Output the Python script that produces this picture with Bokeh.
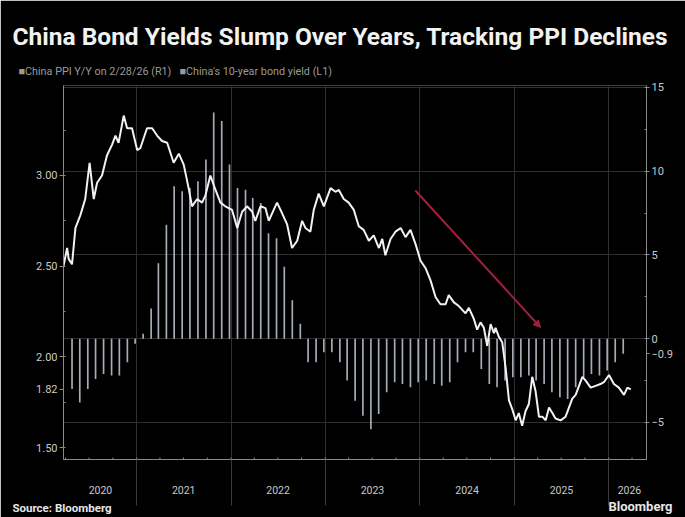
import pandas as pd
from bokeh.plotting import figure
from bokeh.models import (Range1d, LinearAxis, FixedTicker, Grid, Title,
                          Arrow, NormalHead, ColumnDataSource, PrintfTickFormatter)
from bokeh.embed import file_html
from bokeh.resources import INLINE

# ---------------- data ----------------
TITLE = "China Bond Yields Slump Over Years, Tracking PPI Declines"
LEGEND_PPI = "China PPI Y/Y on 2/28/26 (R1)"
LEGEND_YIELD = "China's 10-year bond yield (L1)"
SOURCE = "Source: Bloomberg"
BRAND = "Bloomberg"

yield_dates = [
    "2020-03-24", "2020-04-07", "2020-04-13", "2020-04-26", "2020-05-09", "2020-05-28", "2020-06-16", "2020-07-03", "2020-07-19", "2020-08-01",
    "2020-08-20", "2020-09-08", "2020-09-28", "2020-10-11", "2020-10-23", "2020-11-12", "2020-11-25", "2020-12-14", "2021-01-03", "2021-01-15",
    "2021-02-10", "2021-03-02", "2021-03-21", "2021-04-09", "2021-04-29", "2021-05-24", "2021-06-13", "2021-07-02", "2021-07-21", "2021-08-03",
    "2021-08-23", "2021-09-11", "2021-09-24", "2021-10-13", "2021-11-02", "2021-11-21", "2021-12-10", "2022-01-05", "2022-01-25", "2022-02-13",
    "2022-03-04", "2022-03-24", "2022-04-05", "2022-04-25", "2022-05-14", "2022-05-27", "2022-06-15", "2022-06-28", "2022-07-18", "2022-08-06",
    "2022-08-25", "2022-09-14", "2022-10-03", "2022-10-16", "2022-11-04", "2022-11-17", "2022-12-06", "2022-12-26", "2023-01-21", "2023-02-09",
    "2023-02-22", "2023-03-13", "2023-04-01", "2023-04-21", "2023-05-10", "2023-05-29", "2023-06-18", "2023-07-07", "2023-07-27", "2023-08-09",
    "2023-08-21", "2023-09-10", "2023-09-29", "2023-10-19", "2023-11-07", "2023-11-26", "2023-12-16", "2024-01-04", "2024-01-23", "2024-02-12",
    "2024-03-02", "2024-03-21", "2024-04-10", "2024-04-22", "2024-05-12", "2024-05-31", "2024-06-26", "2024-07-09", "2024-07-28", "2024-08-10",
    "2024-08-23", "2024-09-05", "2024-09-18", "2024-10-01", "2024-10-14", "2024-10-20", "2024-11-02", "2024-11-15", "2024-11-28", "2024-12-11",
    "2024-12-24", "2025-01-06", "2025-01-18", "2025-01-31", "2025-02-13", "2025-02-26", "2025-03-11", "2025-03-24", "2025-04-06", "2025-04-19",
    "2025-05-02", "2025-05-15", "2025-05-28", "2025-06-09", "2025-06-29", "2025-07-18", "2025-07-31", "2025-08-13", "2025-08-26", "2025-09-08",
    "2025-09-21", "2025-10-03", "2025-10-23", "2025-11-11", "2025-11-30", "2025-12-13", "2026-01-02", "2026-01-21", "2026-02-09", "2026-03-01",
    "2026-03-14", "2026-03-27",
]
yield_values = [
    2.50, 2.60, 2.54, 2.51, 2.71, 2.78, 2.87, 3.07, 2.87, 2.96,
    3.00, 3.11, 3.17, 3.22, 3.18, 3.33, 3.26, 3.26, 3.14, 3.15,
    3.26, 3.26, 3.22, 3.19, 3.18, 3.07, 3.12, 3.06, 2.93, 2.83,
    2.87, 2.85, 2.89, 3.00, 2.92, 2.85, 2.83, 2.81, 2.71, 2.80,
    2.83, 2.80, 2.75, 2.83, 2.82, 2.75, 2.81, 2.85, 2.79, 2.73,
    2.60, 2.64, 2.75, 2.71, 2.69, 2.81, 2.90, 2.83, 2.93, 2.91,
    2.92, 2.87, 2.85, 2.81, 2.72, 2.70, 2.64, 2.67, 2.60, 2.65,
    2.56, 2.65, 2.69, 2.71, 2.66, 2.70, 2.62, 2.53, 2.49, 2.42,
    2.33, 2.29, 2.29, 2.34, 2.30, 2.28, 2.24, 2.27, 2.21, 2.15,
    2.19, 2.16, 2.06, 2.18, 2.13, 2.16, 2.11, 2.08, 1.94, 1.76,
    1.71, 1.65, 1.69, 1.62, 1.70, 1.74, 1.89, 1.81, 1.67, 1.67,
    1.65, 1.72, 1.69, 1.66, 1.65, 1.67, 1.72, 1.77, 1.79, 1.84,
    1.89, 1.87, 1.83, 1.84, 1.85, 1.86, 1.90, 1.85, 1.83, 1.79,
    1.83, 1.82,
]

ppi_first_month = "2020-04"
ppi_values = [
    -3.0, -3.8, -3.0, -2.4, -2.1, -2.2, -2.2, -1.4, -0.3,                   # 2020 Apr-Dec
    0.3, 1.8, 4.5, 6.8, 9.1, 8.8, 9.0, 9.4, 10.7, 13.5, 13.0, 10.4,          # 2021
    9.0, 8.9, 8.4, 8.1, 6.3, 6.0, 4.3, 2.3, 0.9, -1.4, -1.4, -0.8,           # 2022
    -0.8, -1.4, -2.5, -3.7, -4.6, -5.4, -4.5, -3.2, -2.6, -2.7, -2.9, -2.6,  # 2023
    -2.5, -2.7, -2.8, -2.6, -1.4, -0.8, -0.8, -1.8, -2.7, -2.9, -2.5, -2.3,  # 2024
    -2.3, -2.2, -2.5, -2.7, -3.2, -3.5, -3.6, -2.9, -2.3, -2.1, -2.2, -1.9,  # 2025
    -1.4, -0.9,                                                              # 2026
]

year_labels = ["2020", "2021", "2022", "2023", "2024", "2025", "2026"]
year_label_dates = ["2020-08-14", "2021-07-02", "2022-07-02", "2023-07-02",
                    "2024-07-02", "2025-07-02", "2026-03-22"]
year_starts = ["2021-01-01", "2022-01-01", "2023-01-01", "2024-01-01",
               "2025-01-01", "2026-01-01"]
left_ticks = [1.5, 2.0, 2.5, 3.0]
right_ticks = [-5, 0, 5, 10, 15]
last_yield_value = 1.82
last_ppi_value = -0.9

# ---------------- layout constants (page px) ----------------
W, H = 685, 517
FL, FR, FT, FB = 63, 646, 85, 459          # frame edges
X_START, X_END = pd.Timestamp("2020-03-24"), pd.Timestamp("2026-05-27")
YL = (1.434, 3.496)                        # left (yield) range
YR = (-7.209, 15.119)                      # right (PPI) range

FONT = "Roboto"
BG = "#000000"
GRID = "#2e2e2e"
AXIS = "#8a8a8a"
TICK_TXT = "#c9c9c9"
BAR = "#c3cad6"
LINE = "#f2f2f2"
ARROW = "#a51f3b"

ms = lambda t: int(pd.Timestamp(t).value // 1_000_000)
x0, x1 = ms(X_START), ms(X_END)

p = figure(width=W, height=H, output_backend="svg", toolbar_location=None,
           x_range=Range1d(x0, x1), y_range=Range1d(*YL),
           x_axis_location=None, y_axis_location="left",
           min_border_left=FL, min_border_right=W - FR,
           min_border_top=FT, min_border_bottom=H - FB,
           background_fill_color=BG, border_fill_color=BG,
           outline_line_color=None)
p.extra_y_ranges = {"ppi": Range1d(*YR)}
p.xgrid.visible = False
p.ygrid.visible = False

# grids: horizontal on the right (PPI) ticks, vertical at year starts
p.add_layout(Grid(dimension=1, y_range_name="ppi",
                  ticker=FixedTicker(ticks=right_ticks),
                  grid_line_color=GRID, grid_line_width=1))
p.add_layout(Grid(dimension=0,
                  ticker=FixedTicker(ticks=[ms(d) for d in year_starts]),
                  grid_line_color=GRID, grid_line_width=1))


def style_axis(ax, size="11px"):
    ax.axis_line_color = AXIS
    ax.major_tick_line_color = AXIS
    ax.minor_tick_line_color = AXIS
    ax.major_label_text_color = TICK_TXT
    ax.major_label_text_font = FONT
    ax.major_label_text_font_size = size


# left axis (bond yield) – includes the last-value tag
ya = p.yaxis[0]
ya.ticker = FixedTicker(ticks=left_ticks + [last_yield_value],
                        minor_ticks=[1.5 + 0.25 * i for i in range(8)])
ya.formatter = PrintfTickFormatter(format="%.2f")
style_axis(ya)
ya.major_tick_out, ya.major_tick_in = 4, 0
ya.minor_tick_out, ya.minor_tick_in = 0, 2
ya.major_label_standoff = 2

# right axis (PPI) – includes the last-value tag
ra = LinearAxis(y_range_name="ppi",
                ticker=FixedTicker(ticks=right_ticks + [last_ppi_value],
                                   minor_ticks=[-5 + 2.5 * i for i in range(9)]))
style_axis(ra)
ra.major_tick_out, ra.major_tick_in = 3, 0
ra.minor_tick_out, ra.minor_tick_in = 0, 2
ra.major_label_standoff = 2
p.add_layout(ra, "right")

# bottom axis: year labels mid-year, long minor ticks at year boundaries
label_ticks = [ms(d) for d in year_label_dates]
xa = LinearAxis(ticker=FixedTicker(ticks=label_ticks,
                                   minor_ticks=[ms(d) for d in year_starts]),
                major_label_overrides={t: lab for t, lab in zip(label_ticks, year_labels)})
style_axis(xa, "10.5px")
xa.major_tick_line_color = None
xa.major_tick_out, xa.major_tick_in = 0, 0
xa.minor_tick_line_color = "#3a3a3a"
xa.minor_tick_out, xa.minor_tick_in = 46, 0
xa.major_label_standoff = -20
p.add_layout(xa, "below")

# small quarterly ticks on the bottom axis line
q_dates = pd.date_range("2020-04-01", "2026-04-01", freq="QS")
tick_len = (YL[1] - YL[0]) / (FB - FT) * 2
p.segment(x0=[ms(d) for d in q_dates], x1=[ms(d) for d in q_dates],
          y0=YL[0], y1=YL[0] + tick_len, line_color=AXIS, line_width=1)

# PPI bars (monthly, plotted late in the month)
months = pd.period_range(ppi_first_month, periods=len(ppi_values), freq="M")
bar_x = [ms(m.to_timestamp() + pd.Timedelta(days=25)) for m in months]
bars = ColumnDataSource(dict(x=bar_x, top=ppi_values))
p.vbar(x="x", top="top", bottom=0, width=6.5 * 86400000, source=bars,
       y_range_name="ppi", fill_color=BAR, line_color=None, fill_alpha=0.85)

# yield line
ys = ColumnDataSource(dict(x=[ms(d) for d in yield_dates], y=yield_values))
p.line(x="x", y="y", source=ys, line_color=LINE, line_width=2)

# red arrow annotation
p.add_layout(Arrow(end=NormalHead(size=7, fill_color=ARROW, line_color=ARROW),
                   x_start=ms("2023-12-15"), y_start=2.917,
                   x_end=ms("2025-04-12"), y_end=2.162,
                   line_color=ARROW, line_width=2))

# title + legend (above), brand + source (below)
NB = "\u00a0"
p.add_layout(Title(text="■" + LEGEND_PPI + NB * 3 + "■" + LEGEND_YIELD,
                   align="left", offset=-(FL - 18), standoff=16,
                   text_color="#9a9a9a", text_font=FONT, text_font_size="10.8px",
                   text_font_style="normal"), "above")
p.add_layout(Title(text=TITLE, align="left", offset=-(FL - 12), standoff=8,
                   text_color="#f2f2f2", text_font=FONT, text_font_size="24.5px",
                   text_font_style="bold"), "above")
p.add_layout(Title(text=BRAND, align="right", offset=-26, standoff=0,
                   text_color="#e6e6e6", text_font=FONT, text_font_size="13px",
                   text_font_style="bold"), "below")
p.add_layout(Title(text=SOURCE, align="left", offset=-(FL - 12), standoff=-26,
                   vertical_align="top",
                   text_color="#e6e6e6", text_font=FONT, text_font_size="11.5px",
                   text_font_style="bold"), "below")

open("out.html", "w").write(file_html(p, INLINE, title="China Bond Yields"))
